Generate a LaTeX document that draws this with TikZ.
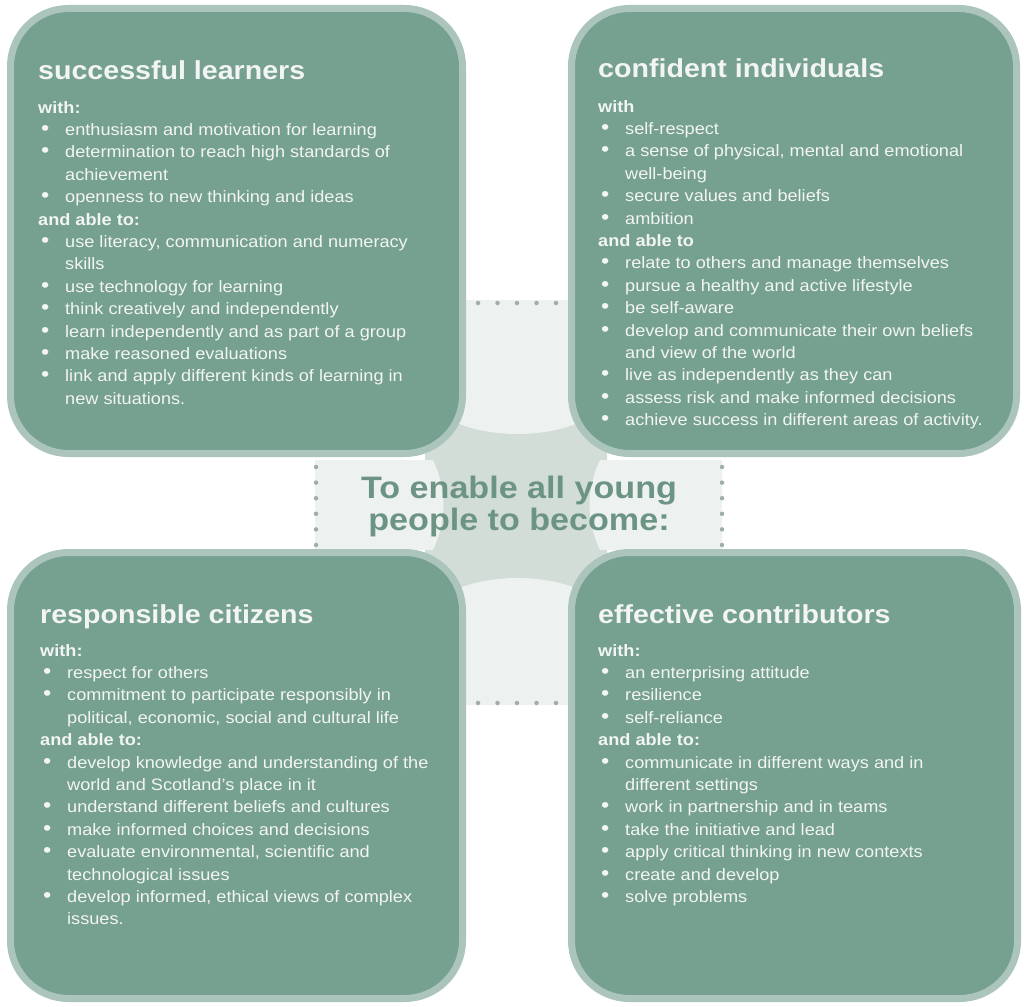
\documentclass[tikz,border=0pt]{standalone}
\usepackage{fontspec}
\setmainfont{Liberation Sans}[FakeStretch=1.1]
\usepackage{tikz}
\definecolor{boxfill}{RGB}{118,160,144}
\definecolor{boxedge}{RGB}{172,197,188}
\definecolor{armgrey}{RGB}{237,241,239}
\definecolor{hubgrey}{RGB}{210,221,216}
\definecolor{dotgrey}{RGB}{160,174,169}
\definecolor{hubtext}{RGB}{108,148,132}
\definecolor{boxtext}{RGB}{242,245,243}
\newcommand\bitem{\hspace*{3pt}\makebox[24pt][l]{\scalebox{1.3}{\textbullet}}}
\newcommand\bcont{\hspace*{27pt}}
\tikzset{
  panel/.style={fill=boxfill, draw=boxedge, line width=7pt, rounded corners=58pt},
  heading/.style={anchor=base west, inner sep=0pt, text=boxtext, font=\fontsize{26}{30}\selectfont\bfseries},
  body/.style={anchor=north west, inner sep=0pt, align=left, text=boxtext, font=\fontsize{16.5}{22.4}\selectfont},
  rimdots/.style={dotgrey, line width=4.5pt, line cap=round, dash pattern=on 0pt off #1}
}

\begin{document}
\begin{tikzpicture}[x=1pt, y=-1pt]
	\useasboundingbox (0,0) rectangle (1024,1006);
	\fill [white] (0,0) rectangle (1024,1006);
	\fill [hubgrey, rounded corners=40pt] (425,415) rectangle (607,595);
	\fill [armgrey] (455,300) -- (580,300) -- (580,422) .. controls (545,438) and (490,438) .. (455,422) -- cycle;
	\fill [armgrey] (455,705) -- (580,705) -- (580,590) .. controls (545,574) and (490,574) .. (455,590) -- cycle;
	\fill [armgrey] (315,460) -- (433,460) .. controls (447,490) and (447,520) .. (433,550) -- (315,550) -- cycle;
	\fill [armgrey] (722,460) -- (600,460) .. controls (586,490) and (586,520) .. (600,550) -- (722,550) -- cycle;
	\draw [rimdots=19.5pt] (478,303) -- (556.2,303);
	\draw [rimdots=19.5pt] (478,703) -- (556.2,703);
	\draw [rimdots=15.6pt] (316,467) -- (316,545.2);
	\draw [rimdots=15.6pt] (722,467) -- (722,545.2);
	\draw [panel] (10.5,8.5) rectangle (462.5,453.5);
	\draw [panel] (571.5,8.5) rectangle (1016.5,453.5);
	\draw [panel] (10.5,552.5) rectangle (462.5,998.5);
	\draw [panel] (571.5,552.5) rectangle (1017.5,998.5);
	\node (hub) at (519,506) [align=center, text=hubtext, font=\fontsize{31}{32}\selectfont\bfseries] {To enable all young\\people to become:};
	\node (sltitle) at (38,80) [heading] {successful learners};
	\node (slbody) at (38,101) [body] {\textbf{with:}\\
		\bitem enthusiasm and motivation for learning\\
		\bitem determination to reach high standards of\\
		\bcont achievement\\
		\bitem openness to new thinking and ideas\\
		\textbf{and able to:}\\
		\bitem use literacy, communication and numeracy\\
		\bcont skills\\
		\bitem use technology for learning\\
		\bitem think creatively and independently\\
		\bitem learn independently and as part of a group\\
		\bitem make reasoned evaluations\\
		\bitem link and apply different kinds of learning in\\
		\bcont new situations.};
	\node (cititle) at (598,78) [heading] {confident individuals};
	\node (cibody) at (598,100) [body] {\textbf{with}\\
		\bitem self-respect\\
		\bitem a sense of physical, mental and emotional\\
		\bcont well-being\\
		\bitem secure values and beliefs\\
		\bitem ambition\\
		\textbf{and able to}\\
		\bitem relate to others and manage themselves\\
		\bitem pursue a healthy and active lifestyle\\
		\bitem be self-aware\\
		\bitem develop and communicate their own beliefs\\
		\bcont and view of the world\\
		\bitem live as independently as they can\\
		\bitem assess risk and make informed decisions\\
		\bitem achieve success in different areas of activity.};
	\node (rctitle) at (40,623) [heading] {responsible citizens};
	\node (rcbody) at (40,644) [body] {\textbf{with:}\\
		\bitem respect for others\\
		\bitem commitment to participate responsibly in\\
		\bcont political, economic, social and cultural life\\
		\textbf{and able to:}\\
		\bitem develop knowledge and understanding of the\\
		\bcont world and Scotland's place in it\\
		\bitem understand different beliefs and cultures\\
		\bitem make informed choices and decisions\\
		\bitem evaluate environmental, scientific and\\
		\bcont technological issues\\
		\bitem develop informed, ethical views of complex\\
		\bcont issues.};
	\node (ectitle) at (598,623) [heading] {effective contributors};
	\node (ecbody) at (598,644) [body] {\textbf{with:}\\
		\bitem an enterprising attitude\\
		\bitem resilience\\
		\bitem self-reliance\\
		\textbf{and able to:}\\
		\bitem communicate in different ways and in\\
		\bcont different settings\\
		\bitem work in partnership and in teams\\
		\bitem take the initiative and lead\\
		\bitem apply critical thinking in new contexts\\
		\bitem create and develop\\
		\bitem solve problems};
\end{tikzpicture}
\end{document}
